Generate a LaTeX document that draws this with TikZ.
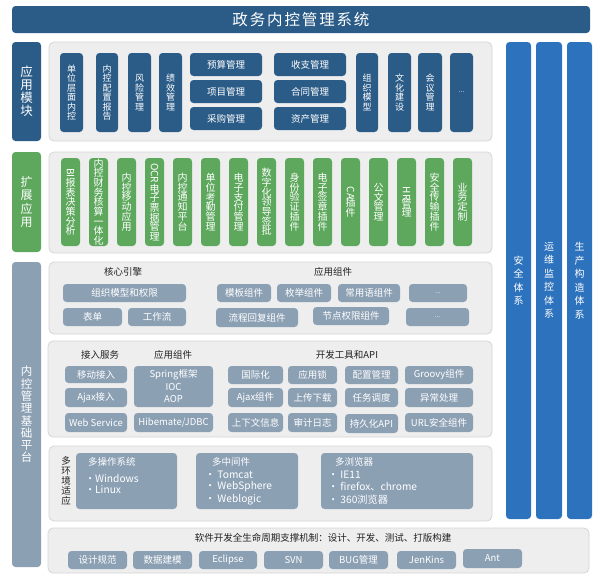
\documentclass[tikz,border=0pt]{standalone}
\usepackage{fontspec}
\setmainfont{Noto Sans CJK SC}
\usepackage{graphicx}
\definecolor{dblue}{HTML}{2B5C88}
\definecolor{cblue}{HTML}{2D72BD}
\definecolor{grn}{HTML}{5DA85D}
\definecolor{gblue}{HTML}{8CA0B4}
\definecolor{panelbg}{HTML}{EEEEEE}
\definecolor{panelbd}{HTML}{D5D5D5}
\definecolor{ttlc}{HTML}{222222}
\newcommand\fs[2]{\fontsize{#1}{#2}\selectfont\lineskiplimit=-2pt\lineskip=0.5pt\relax}
\newcommand\rt[1]{\rotatebox[origin=c]{-90}{#1}}
\newcommand\bx[7]{\node[#6, minimum width={#4-#2}, minimum height={#5-#3}] (#1) at ({(#2+#4)/2},{(#3+#5)/2}) {#7};}
\tikzset{
  base/.style={rectangle, inner sep=0pt, outer sep=0pt, align=center},
  dbox/.style={base, fill=dblue, rounded corners=3.5pt, text=white},
  gbox/.style={base, fill=grn, rounded corners=3.5pt, text=white, font=\fs{10}{9.7}},
  sbox/.style={base, fill=gblue, rounded corners=3.5pt, text=white, font=\fs{9.5}{12.5}},
  cbox/.style={base, fill=cblue, rounded corners=3.5pt, text=white, font=\fs{10}{13.5}},
  panel/.style={base, fill=panelbg, draw=panelbd, line width=0.8pt, rounded corners=5pt},
  vt/.style={dbox, font=\fs{9}{9.5}},
  ht/.style={dbox, font=\fs{9.5}{11}},
  ttl/.style={base, font=\fs{9.5}{11}, text=ttlc},
  envt/.style={base, anchor=west, text=white, font=\fs{9.5}{11}},
  envi/.style={base, anchor=west, text=white, font=\fs{10.2}{12}},
  dots/.style={font=\fs{7}{8}}
}
\begin{document}
\begin{tikzpicture}[x=1pt,y=-1pt]
\useasboundingbox (0,0) rectangle (600,582);
% title
\bx{title}{12}{6}{590}{33}{dbox, font=\fs{15.5}{18}\addfontfeatures{LetterSpace=12}}{政务内控管理系统}
% right columns
\bx{s1}{506}{42}{531}{519}{cbox}{安\\全\\体\\系}
\bx{s2}{536}{42}{562}{519}{cbox}{运\\维\\监\\控\\体\\系}
\bx{s3}{567}{42}{592}{519}{cbox}{生\\产\\构\\造\\体\\系}
% row 1
\bx{lab1}{12}{42}{41}{141}{dbox, font=\fs{12.5}{13}}{应\\用\\模\\块}
\bx{p1}{49}{42}{492}{141}{panel}{}
\bx{m1}{60}{53}{83}{132}{vt}{单\\位\\层\\面\\内\\控}
\bx{m2}{96}{53}{118}{132}{vt}{内\\控\\配\\置\\报\\告}
\bx{m3}{128}{53}{151}{132}{vt}{风\\险\\管\\理}
\bx{m4}{159}{53}{182}{132}{vt}{绩\\效\\管\\理}
\bx{m5}{190}{53}{262}{76}{ht}{预算管理}
\bx{m6}{190}{80}{262}{103}{ht}{项目管理}
\bx{m7}{190}{107}{262}{130}{ht}{采购管理}
\bx{m8}{274}{53}{346}{76}{ht}{收支管理}
\bx{m9}{274}{80}{346}{103}{ht}{合同管理}
\bx{m10}{274}{107}{346}{130}{ht}{资产管理}
\bx{m11}{356}{53}{378}{132}{vt}{组\\织\\模\\型}
\bx{m12}{388}{53}{411}{132}{vt}{文\\化\\建\\设}
\bx{m13}{418}{53}{442}{132}{vt}{会\\议\\管\\理}
\bx{m14}{450}{53}{473}{132}{vt, dots}{...}
% row 2
\bx{lab2}{12}{152}{41}{252}{gbox, font=\fs{12}{13.5}}{扩\\展\\应\\用}
\bx{p2}{49}{152}{492}{253}{panel}{}
\bx{g1}{61}{158}{80}{246}{gbox}{\rt{BI}\\报\\表\\决\\策\\分\\析}
\bx{g2}{89}{158}{108}{246}{gbox}{内\\控\\财\\务\\核\\算\\一\\体\\化}
\bx{g3}{117}{158}{136}{246}{gbox}{内\\控\\移\\动\\应\\用}
\bx{g4}{145}{158}{164}{246}{gbox}{\rt{OCR}\\电\\子\\票\\据\\管\\理}
\bx{g5}{173}{158}{192}{246}{gbox}{内\\控\\通\\知\\平\\台}
\bx{g6}{201}{158}{220}{246}{gbox}{单\\位\\考\\勤\\管\\理}
\bx{g7}{229}{158}{248}{246}{gbox}{电\\子\\支\\付\\管\\理}
\bx{g8}{257}{158}{276}{246}{gbox}{数\\字\\化\\领\\导\\签\\批}
\bx{g9}{285}{158}{304}{246}{gbox}{身\\份\\验\\证\\插\\件}
\bx{g10}{313}{158}{332}{246}{gbox}{电\\子\\签\\章\\插\\件}
\bx{g11}{341}{158}{360}{246}{gbox}{\rt{CA}\\插\\件}
\bx{g12}{369}{158}{388}{246}{gbox}{公\\文\\管\\理}
\bx{g13}{397}{158}{416}{246}{gbox}{\rt{HR}\\管\\理}
\bx{g14}{425}{158}{444}{246}{gbox}{安\\全\\传\\输\\插\\件}
\bx{g15}{453}{158}{472}{246}{gbox}{业\\务\\定\\制}
% row 3 label
\bx{lab3}{12}{262}{41}{567}{sbox, font=\fs{11.5}{12.3}}{内\\控\\管\\理\\基\\础\\平\\台}
% core engine panel
\bx{p3}{49}{262}{492}{334}{panel}{}
\node[ttl] (t31) at (123,272) {核心引擎};
\node[ttl] (t32) at (333,272) {应用组件};
\bx{c1}{63}{284}{186}{302}{sbox}{组织模型和权限}
\bx{c2}{63}{308}{122}{326}{sbox}{表单}
\bx{c3}{128}{308}{186}{326}{sbox}{工作流}
\bx{c4}{217}{284}{271}{302}{sbox}{模板组件}
\bx{c5}{277}{284}{331}{302}{sbox}{枚举组件}
\bx{c6}{338}{284}{400}{302}{sbox}{常用语组件}
\bx{c7}{409}{284}{467}{302}{sbox, dots}{...}
\bx{c8}{216}{308}{298}{327}{sbox}{流程回复组件}
\bx{c9}{313}{307}{389}{325}{sbox}{节点权限组件}
\bx{c10}{406}{308}{469}{326}{sbox, dots}{...}
% access / dev tools panel
\bx{p4}{48}{341}{492}{437}{panel}{}
\node[ttl] (t41) at (100,355) {接入服务};
\node[ttl] (t42) at (173,355) {应用组件};
\node[ttl] (t43) at (347,355) {开发工具和API};
\bx{a1}{65}{366}{127}{383}{sbox}{移动接入}
\bx{a2}{65}{388}{127}{407}{sbox}{Ajax接入}
\bx{a3}{65}{413}{127}{432}{sbox}{Web Service}
\bx{a4}{134}{366}{213}{407}{sbox}{Spring框架\\IOC\\AOP}
\bx{a5}{134}{413}{213}{432}{sbox}{Hibemate/JDBC}
\bx{d1}{228}{366}{283}{384}{sbox}{国际化}
\bx{d2}{288}{366}{337}{384}{sbox}{应用锁}
\bx{d3}{345}{366}{398}{384}{sbox}{配置管理}
\bx{d4}{405}{366}{473}{384}{sbox}{Groovy组件}
\bx{d5}{228}{388}{283}{407}{sbox}{Ajax组件}
\bx{d6}{288}{388}{337}{407}{sbox}{上传下载}
\bx{d7}{345}{388}{398}{407}{sbox}{任务调度}
\bx{d8}{405}{388}{473}{407}{sbox}{异常处理}
\bx{d9}{228}{413}{283}{432}{sbox}{上下文信息}
\bx{d10}{288}{413}{337}{432}{sbox}{审计日志}
\bx{d11}{345}{414}{398}{433}{sbox}{持久化API}
\bx{d12}{405}{413}{473}{432}{sbox}{URL安全组件}
% multi-environment panel
\bx{p5}{49}{446}{492}{521}{panel}{}
\node[ttl, font=\fs{9.5}{10}] (e0) at (66,481) {多\\环\\境\\适\\应};
\bx{e1}{76}{453}{177}{509}{sbox}{}
\bx{e2}{196}{453}{298}{509}{sbox}{}
\bx{e3}{321}{453}{473}{509}{sbox}{}
\node[envt] (e1a) at (88,462) {多操作系统};
\node[envi] (e1b) at (85,478) {·Windows};
\node[envi] (e1c) at (85,490) {·Linux};
\node[envt] (e2a) at (212,462) {多中间件};
\node[envi] (e2b) at (205,475) {· Tomcat};
\node[envi] (e2c) at (205,487) {· WebSphere};
\node[envi] (e2d) at (205,500) {· Weblogic};
\node[envt] (e3a) at (335,462) {多浏览器};
\node[envi] (e3b) at (328,475) {· IE11};
\node[envi] (e3c) at (328,487) {· firefox、chrome};
\node[envi] (e3d) at (328,500) {· 360浏览器};
% bottom panel
\bx{p6}{48}{528}{589}{573}{panel}{}
\node[ttl] (b0) at (323,538) {软件开发全生命周期支撑机制：设计、开发、测试、打版构建};
\bx{b1}{68}{551}{127}{569}{sbox}{设计规范}
\bx{b2}{133}{551}{192}{569}{sbox}{数据建模}
\bx{b3}{199}{551}{257}{569}{sbox}{Eclipse}
\bx{b4}{264}{551}{323}{569}{sbox}{SVN}
\bx{b5}{329}{551}{388}{569}{sbox}{BUG管理}
\bx{b6}{397}{551}{456}{569}{sbox}{JenKins}
\bx{b7}{463}{549}{522}{568}{sbox}{Ant}
\end{tikzpicture}
\end{document}
